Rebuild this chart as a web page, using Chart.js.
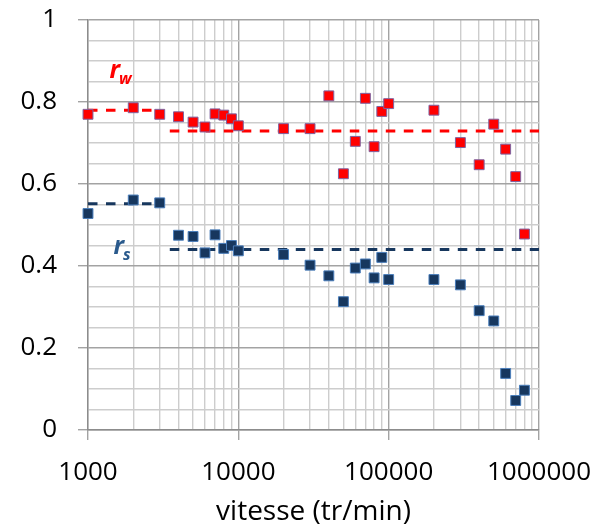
<!DOCTYPE html>
<html>
<head>
<meta charset="utf-8">
<script src="https://cdn.jsdelivr.net/npm/chart.js@4/dist/chart.umd.min.js"></script>
<style>
  html, body { margin: 0; padding: 0; background: #ffffff; }
  #wrap { width: 596px; height: 527px; position: relative; }
</style>
</head>
<body>
<div id="wrap"><canvas id="c" width="596" height="527"></canvas></div>
<script>
// ---- data ----
const speeds = [1000, 2000, 3000, 4000, 5000, 6000, 7000, 8000, 9000, 10000,
                20000, 30000, 40000, 50000, 60000, 70000, 80000, 90000, 100000,
                200000, 300000, 400000, 500000, 600000, 700000, 800000];
const rw = [0.770, 0.786, 0.770, 0.764, 0.751, 0.739, 0.771, 0.768, 0.759, 0.742,
            0.735, 0.735, 0.815, 0.625, 0.704, 0.809, 0.691, 0.777, 0.796,
            0.780, 0.701, 0.647, 0.746, 0.685, 0.618, 0.478];
const rs = [0.528, 0.561, 0.554, 0.475, 0.472, 0.432, 0.476, 0.443, 0.450, 0.437,
            0.428, 0.402, 0.376, 0.313, 0.395, 0.405, 0.371, 0.421, 0.367,
            0.367, 0.354, 0.291, 0.266, 0.138, 0.072, 0.097];

// mean levels (dashed lines): low-speed and high-speed ranges
const lowRangeX = [1000, 3000];
const highRangeX = [3500, 1000000];
const rwMeanLow = [0.780, 0.780];
const rwMeanHigh = [0.729, 0.729];
const rsMeanLow = [0.552, 0.552];
const rsMeanHigh = [0.440, 0.440];

// tick values / labels
const xDecades = [1000, 10000, 100000, 1000000];
const xTickLabels = ['1000', '10000', '100000', '1000000'];
const xMultipliers = [1, 2, 3, 4, 5, 6, 7, 8, 9];
const yMajorTicks = [0, 0.2, 0.4, 0.6, 0.8, 1];
const yTickLabels = ['0', '0.2', '0.4', '0.6', '0.8', '1'];
const yGridStep = 0.05;

// ---- helpers ----
const xGridValues = [];
xDecades.forEach((d, i) => {
  if (i === xDecades.length - 1) { xGridValues.push(d); return; }
  xMultipliers.forEach(m => xGridValues.push(d * m));
});
const yGridValues = [];
for (let k = 0; k <= Math.round(1 / yGridStep); k++) yGridValues.push(+(k * yGridStep).toFixed(2));

const isXMajor = v => xDecades.some(d => Math.abs(d - v) < 1e-6);
const isYMajor = v => yMajorTicks.some(d => Math.abs(d - v) < 1e-6);
const pts = (xs, ys) => xs.map((x, i) => ({ x: x, y: ys[i] }));

const RED = '#FF0000';
const NAVY = '#17375E';
const MAJOR_GRID = '#A3A3A3';
const MINOR_GRID = '#CDCDCD';
const DASH = [9.5, 8.5];
const FONT = '"Open Sans", "DejaVu Sans", sans-serif';

const labelPlugin = {
  id: 'seriesLabels',
  afterDatasetsDraw(chart) {
    const ctx = chart.ctx;
    const xs = chart.scales.x, ys = chart.scales.y;
    const items = [
      { main: 'r', sub: 'w', x: 1390, y: 0.859, color: RED },
      { main: 'r', sub: 's', x: 1475, y: 0.429, color: '#2A5A8C' }
    ];
    ctx.save();
    ctx.textBaseline = 'alphabetic';
    ctx.textAlign = 'left';
    items.forEach(it => {
      const px = xs.getPixelForValue(it.x);
      const py = ys.getPixelForValue(it.y);
      ctx.fillStyle = it.color;
      ctx.font = 'italic bold 25px ' + FONT;
      ctx.fillText(it.main, px, py);
      const w = ctx.measureText(it.main).width;
      ctx.font = 'italic bold 16px ' + FONT;
      ctx.fillText(it.sub, px + w - 1, py + 6);
    });
    ctx.restore();
  }
};

new Chart(document.getElementById('c'), {
  type: 'scatter',
  data: {
    datasets: [
      { label: 'rw', data: pts(speeds, rw), order: 0, clip: false,
        pointStyle: 'rect', pointRadius: 7, backgroundColor: RED,
        borderColor: '#7E63A0', borderWidth: 1, showLine: false },
      { label: 'rs', data: pts(speeds, rs), order: 0, clip: false,
        pointStyle: 'rect', pointRadius: 7, backgroundColor: NAVY,
        borderColor: '#4A7EBB', borderWidth: 1, showLine: false },
      { label: 'rw moyen (basse)', data: pts(lowRangeX, rwMeanLow), order: 1,
        showLine: true, pointRadius: 0, borderColor: RED, borderWidth: 3, borderDash: DASH },
      { label: 'rw moyen (haute)', data: pts(highRangeX, rwMeanHigh), order: 1,
        showLine: true, pointRadius: 0, borderColor: RED, borderWidth: 3, borderDash: DASH },
      { label: 'rs moyen (basse)', data: pts(lowRangeX, rsMeanLow), order: 1,
        showLine: true, pointRadius: 0, borderColor: NAVY, borderWidth: 3, borderDash: DASH },
      { label: 'rs moyen (haute)', data: pts(highRangeX, rsMeanHigh), order: 1,
        showLine: true, pointRadius: 0, borderColor: NAVY, borderWidth: 3, borderDash: DASH }
    ]
  },
  options: {
    responsive: false,
    animation: false,
    events: [],
    layout: { padding: { top: 20, right: 57, left: 0, bottom: 0 } },
    plugins: { legend: { display: false }, tooltip: { enabled: false } },
    scales: {
      x: {
        type: 'logarithmic',
        min: 1000, max: 1000000,
        afterBuildTicks: s => { s.ticks = xGridValues.map(v => ({ value: v, major: isXMajor(v) })); },
        afterFit: s => { s.height = 97; s.paddingLeft = 0; s.paddingRight = 0; },
        grid: {
          color: c => (c.tick && isXMajor(c.tick.value)) ? MAJOR_GRID : MINOR_GRID,
          lineWidth: 1.4,
          tickLength: 10,
          tickColor: c => (c.tick && isXMajor(c.tick.value)) ? MAJOR_GRID : 'rgba(0,0,0,0)',
          tickWidth: 1.4
        },
        border: { display: true, color: '#8C8C8C', width: 1.4 },
        ticks: {
          autoSkip: false, maxRotation: 0, padding: 17,
          color: '#000', font: { family: FONT, size: 26 },
          callback: v => { const i = xDecades.findIndex(d => Math.abs(d - v) < 1e-6); return i >= 0 ? xTickLabels[i] : ''; }
        },
        title: {
          display: true, text: 'vitesse (tr/min)', color: '#000',
          font: { family: FONT, size: 28 }, padding: { top: 0, bottom: -2 }
        }
      },
      y: {
        type: 'linear',
        min: 0, max: 1,
        afterBuildTicks: s => { s.ticks = yGridValues.map(v => ({ value: v })); },
        afterFit: s => { s.width = 88; s.paddingTop = 0; s.paddingBottom = 0; },
        grid: {
          color: c => (c.tick && isYMajor(c.tick.value)) ? MAJOR_GRID : MINOR_GRID,
          lineWidth: 1.4,
          tickLength: 10,
          tickColor: c => (c.tick && isYMajor(c.tick.value)) ? MAJOR_GRID : 'rgba(0,0,0,0)',
          tickWidth: 1.4
        },
        border: { display: true, color: '#8C8C8C', width: 1.4 },
        ticks: {
          autoSkip: false, padding: 21,
          color: '#000', font: { family: FONT, size: 26 },
          callback: v => { const i = yMajorTicks.findIndex(d => Math.abs(d - v) < 1e-6); return i >= 0 ? yTickLabels[i] : ''; }
        }
      }
    }
  },
  plugins: [labelPlugin]
});
</script>
</body>
</html>
